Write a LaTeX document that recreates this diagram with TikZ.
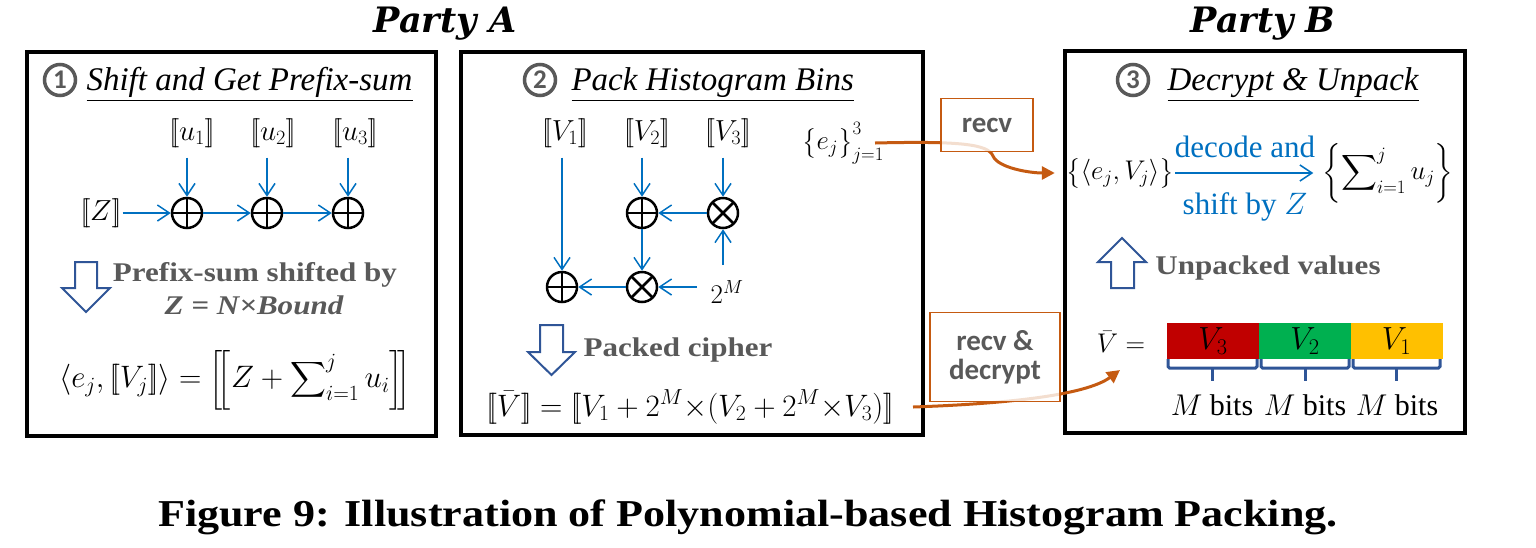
\RequirePackage{fix-cm}
\documentclass[tikz,border=0pt]{standalone}
\usepackage{exscale}
\usepackage{graphicx}
\usepackage{fontspec}
\setmainfont{Liberation Serif}
\newfontfamily\calib{Carlito}
\newfontfamily\dvs{DejaVu Serif}
\usetikzlibrary{arrows.meta}
\definecolor{ablue}{RGB}{0,112,192}
\definecolor{dblue}{RGB}{47,85,151}
\definecolor{orng}{RGB}{197,90,17}
\definecolor{gtxt}{RGB}{89,89,89}
\definecolor{vred}{RGB}{192,0,0}
\definecolor{vgreen}{RGB}{0,176,80}
\definecolor{vyellow}{RGB}{255,192,0}
\newcommand{\ldbr}{[\![}
\newcommand{\rdbr}{]\!]}
\newcommand{\fs}[1]{\fontsize{#1}{#1}\selectfont}
\newcommand{\wid}[1]{\scalebox{1.15}[1]{#1}}
\begin{document}
\begin{tikzpicture}[x=1pt,y=-1pt,
  panel/.style={draw=black, line width=4pt},
  op/.style={circle, draw=black, line width=2.5pt, minimum size=30pt, inner sep=0pt},
  plusop/.style={op, path picture={\draw[line width=2.5pt] (path picture bounding box.north) -- (path picture bounding box.south) (path picture bounding box.west) -- (path picture bounding box.east);}},
  timesop/.style={op, path picture={\draw[line width=2.5pt] (path picture bounding box.north west) -- (path picture bounding box.south east) (path picture bounding box.north east) -- (path picture bounding box.south west);}},
  barrow/.style={draw=ablue, line width=1.5pt, -{Straight Barb[length=12pt,width=16pt]}},
  orarrow/.style={draw=orng, line width=3pt, -{Triangle[length=13pt,width=13pt]}},
  hollow/.style={draw=dblue, line width=2pt, fill=white},
  cnum/.style={circle, draw=gtxt, line width=3.5pt, minimum size=31pt, inner sep=0pt, text=gtxt, font=\calib\bfseries\fs{27}},
  ttl/.style={anchor=base west, font=\itshape\fs{33}},
  mth/.style={font=\fs{29}, inner sep=1pt},
  bigmth/.style={font=\fs{31}, inner sep=1pt},
  glabel/.style={text=gtxt, font=\bfseries\fs{27}},
  rbox/.style={draw=orng, line width=1.5pt, fill=white, fill opacity=0.8, text opacity=1, text=gtxt, font=\calib\bfseries\fs{29}, inner sep=0pt, align=center},
  bar/.style={draw=none, inner sep=0pt, minimum width=92pt, minimum height=36pt, font=\fs{32}},
  brk/.style={draw=dblue, line width=3pt, rounded corners=1.5pt},
  party/.style={anchor=base, font=\dvs\bfseries\itshape\fs{35}}
]
\useasboundingbox (0,0) rectangle (1536,547);

% titles
\node[party] (pa) at (445,32) {Party A};
\node[party] (pb) at (1263,32) {Party B};
\node[anchor=base, font=\bfseries\fs{38}] (cap) at (748,526) {\scalebox{1.16}[1]{Figure 9: Illustration of Polynomial-based Histogram Packing.}};

% panels
\draw[panel] (27,52) rectangle (436,436);
\draw[panel] (461,52) rectangle (923,435);
\draw[panel] (1065,51) rectangle (1465,433);

% ---------- panel 1 ----------
\node[cnum] (c1) at (60,80) {1};
\node[ttl] (t1) at (83,90) {\underline{Shift and Get Prefix-sum}};
\node[mth] (u1) at (192,133) {$\ldbr u_1\rdbr$};
\node[mth] (u2) at (273,133) {$\ldbr u_2\rdbr$};
\node[mth] (u3) at (355,133) {$\ldbr u_3\rdbr$};
\node[plusop] (p1) at (187,213) {};
\node[plusop] (p2) at (267,213) {};
\node[plusop] (p3) at (348,213) {};
\node[mth] (z) at (101,213) {$\ldbr Z\rdbr$};
\draw[barrow] (z) -- (p1);
\draw[barrow] (p1) -- (p2);
\draw[barrow] (p2) -- (p3);
\draw[barrow, shorten <=9pt] (p1 |- u1.south) -- (p1);
\draw[barrow, shorten <=9pt] (p2 |- u2.south) -- (p2);
\draw[barrow, shorten <=9pt] (p3 |- u3.south) -- (p3);
\draw[hollow] (75,262) -- (97,262) -- (97,288) -- (110,288) -- (86,312) -- (62,288) -- (75,288) -- cycle;
\node[glabel] (ps1) at (255,275) {\wid{Prefix-sum shifted by}};
\node[glabel] (ps2) at (254,305) {\wid{\itshape Z = N×Bound}};
\node[bigmth] (f1) at (235,380) {$\displaystyle \langle e_j, \ldbr V_j\rdbr\rangle = \left[\!\left[ Z + \sum\nolimits_{i=1}^{j} u_i \right]\!\right]$};

% ---------- panel 2 ----------
\node[cnum] (c2) at (540,80) {2};
\node[ttl] (t2) at (568,90) {\underline{Pack Histogram Bins}};
\node[mth] (v1) at (565,133) {$\ldbr V_1\rdbr$};
\node[mth] (v2) at (647,133) {$\ldbr V_2\rdbr$};
\node[mth] (v3) at (728,133) {$\ldbr V_3\rdbr$};
\node[font=\fs{27}, inner sep=1pt] (e) at (843,143) {$\big\{e_j\big\}_{j=1}^{3}$};
\node[plusop] (a1) at (642,213) {};
\node[timesop] (m1) at (723,213) {};
\node[plusop] (a2) at (562,287) {};
\node[timesop] (m2) at (642,287) {};
\node[font=\fs{27}, inner sep=1pt] (two) at (727,292) {$2^M$};
\coordinate (tw1) at (723,265);
\coordinate (tw2) at (697,287);
\draw[barrow, shorten <=9pt] (a2 |- v1.south) -- (a2);
\draw[barrow, shorten <=9pt] (a1 |- v2.south) -- (a1);
\draw[barrow, shorten <=9pt] (m1 |- v3.south) -- (m1);
\draw[barrow] (m1) -- (a1);
\draw[barrow] (a1) -- (m2);
\draw[barrow] (m2) -- (a2);
\draw[barrow] (tw1) -- (m1);
\draw[barrow] (tw2) -- (m2);
\draw[hollow] (540,325) -- (563,325) -- (563,352) -- (575,352) -- (551.5,375) -- (528,352) -- (540,352) -- cycle;
\node[glabel] (pc) at (678,350) {\wid{Packed cipher}};
\node[bigmth] (f2) at (690,407) {$\ldbr\bar V\rdbr = \ldbr V_1 + 2^M{\times}(V_2 + 2^M{\times}V_3)\rdbr$};

% ---------- panel 3 ----------
\node[cnum] (c3) at (1133,80) {3};
\node[ttl] (t3) at (1164,90) {\underline{Decrypt \& Unpack}};
\node[font=\fs{27}, inner sep=1pt] (set1) at (1120,173) {$\big\{\langle e_j, V_j\rangle\big\}$};
\node[font=\fs{27}, inner sep=1pt] (sum) at (1388,173) {$\displaystyle\left\{\sum\nolimits_{i=1}^{j} u_j\right\}$};
\draw[barrow, shorten >=8pt] (set1) -- (sum);
\node[text=ablue, font=\fs{31}] (dec) at (1245,147) {decode and};
\node[text=ablue, font=\fs{31}] (shf) at (1245,207) {shift by $Z$};
\draw[hollow] (1111,288) -- (1134,288) -- (1134,262) -- (1146,262) -- (1122,238) -- (1098,262) -- (1111,262) -- cycle;
\node[glabel] (uv) at (1268,268) {\wid{Unpacked values}};
\node[font=\fs{27}, inner sep=1pt] (vb) at (1121,342) {$\bar V =$};
\node[bar, fill=vred] (b3) at (1213,341) {$V_3$};
\node[bar, fill=vgreen] (b2) at (1305,341) {$V_2$};
\node[bar, fill=vyellow] (b1) at (1396.5,341) {$V_1$};
\draw[brk] (1168,359) -- (1168,368) -- (1257,368) -- (1257,359);
\draw[brk] (1261,359) -- (1261,368) -- (1349,368) -- (1349,359);
\draw[brk] (1353,359) -- (1353,368) -- (1440,368) -- (1440,359);
\draw[brk] (1212.5,368) -- (1212.5,381);
\draw[brk] (1305,368) -- (1305,381);
\draw[brk] (1396.5,368) -- (1396.5,381);
\node[font=\fs{30}] (mb3) at (1212,405) {$M$ bits};
\node[font=\fs{30}] (mb2) at (1305,405) {$M$ bits};
\node[font=\fs{30}] (mb1) at (1397,405) {$M$ bits};

% ---------- transfers ----------
\coordinate (s1) at (875,143);
\coordinate (s2) at (913,407);
\coordinate (tv) at (1120,370);
\draw[orarrow, shorten >=10pt] (s1) .. controls (960,141) and (988,144) .. (993,156) .. controls (998,168) and (1030,173) .. (set1.west);
\draw[orarrow] (s2) .. controls (1000,404) and (1085,396) .. (tv);
\node[rbox, minimum width=92pt, minimum height=53pt] (r1) at (987,125) {recv};
\node[rbox, minimum width=130pt, minimum height=89pt] (r2) at (995,357) {recv \&\\decrypt};
\end{tikzpicture}
\end{document}
